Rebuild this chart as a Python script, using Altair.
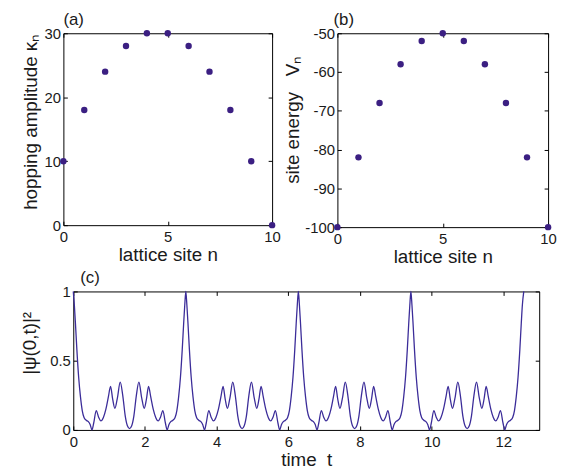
import altair as alt
import pandas as pd

# ---------------- data ----------------
sites = [0, 1, 2, 3, 4, 5, 6, 7, 8, 9, 10]
kappa = [10, 18, 24, 28, 30, 30, 28, 24, 18, 10, 0]
site_energy = [-100, -82, -68, -58, -52, -50, -52, -58, -68, -82, -100]

time_t = [
    0.00, 0.03, 0.06, 0.10, 0.15, 0.20, 0.25, 0.30, 0.36, 0.42, 0.47, 0.52, 0.57, 0.64, 0.71, 0.77, 0.84, 0.91, 0.98, 1.04, 1.10, 1.16, 1.23, 1.31, 1.38, 1.45, 1.51, 1.57,
    1.63, 1.69, 1.76, 1.83, 1.91, 1.98, 2.04, 2.10, 2.16, 2.23, 2.30, 2.37, 2.43, 2.50, 2.57, 2.62, 2.67, 2.72, 2.78, 2.84, 2.89, 2.94, 2.99, 3.04, 3.08, 3.11, 3.14,
    3.17, 3.20, 3.24, 3.29, 3.34, 3.39, 3.44, 3.50, 3.56, 3.61, 3.66, 3.71, 3.78, 3.85, 3.91, 3.98, 4.05, 4.12, 4.18, 4.24, 4.30, 4.37, 4.45, 4.52, 4.59, 4.65, 4.71,
    4.77, 4.83, 4.90, 4.97, 5.05, 5.12, 5.18, 5.24, 5.30, 5.37, 5.44, 5.51, 5.57, 5.64, 5.71, 5.76, 5.81, 5.86, 5.92, 5.98, 6.03, 6.08, 6.13, 6.18, 6.22, 6.25, 6.28,
    6.31, 6.34, 6.38, 6.43, 6.48, 6.53, 6.58, 6.64, 6.70, 6.75, 6.80, 6.85, 6.92, 6.99, 7.05, 7.12, 7.19, 7.26, 7.32, 7.38, 7.44, 7.51, 7.59, 7.66, 7.73, 7.79, 7.85,
    7.91, 7.97, 8.04, 8.11, 8.19, 8.26, 8.32, 8.38, 8.44, 8.51, 8.58, 8.65, 8.71, 8.78, 8.85, 8.90, 8.95, 9.00, 9.06, 9.12, 9.17, 9.22, 9.27, 9.32, 9.36, 9.39, 9.42,
    9.45, 9.48, 9.52, 9.57, 9.62, 9.67, 9.72, 9.78, 9.84, 9.89, 9.94, 9.99, 10.06, 10.13, 10.19, 10.26, 10.33, 10.40, 10.46, 10.52, 10.58, 10.65, 10.73, 10.80, 10.87, 10.93, 10.99,
    11.05, 11.11, 11.18, 11.25, 11.33, 11.40, 11.46, 11.52, 11.58, 11.65, 11.72, 11.79, 11.85, 11.92, 11.99, 12.04, 12.09, 12.14, 12.20, 12.26, 12.31, 12.36, 12.41, 12.46, 12.50, 12.53, 12.57,
]
return_prob = [
    1.00, 0.90, 0.77, 0.58, 0.38, 0.24, 0.14, 0.09, 0.07, 0.06, 0.04, 0.00, 0.05, 0.14, 0.09, 0.065, 0.09, 0.15, 0.24, 0.315, 0.22, 0.155, 0.23, 0.345, 0.25, 0.10, 0.03, 0.01,
    0.03, 0.10, 0.25, 0.345, 0.23, 0.155, 0.22, 0.315, 0.24, 0.15, 0.09, 0.065, 0.09, 0.14, 0.05, 0.00, 0.04, 0.06, 0.07, 0.09, 0.14, 0.24, 0.38, 0.58, 0.77, 0.90, 1.00,
    0.90, 0.77, 0.58, 0.38, 0.24, 0.14, 0.09, 0.07, 0.06, 0.04, 0.00, 0.05, 0.14, 0.09, 0.065, 0.09, 0.15, 0.24, 0.315, 0.22, 0.155, 0.23, 0.345, 0.25, 0.10, 0.03, 0.01,
    0.03, 0.10, 0.25, 0.345, 0.23, 0.155, 0.22, 0.315, 0.24, 0.15, 0.09, 0.065, 0.09, 0.14, 0.05, 0.00, 0.04, 0.06, 0.07, 0.09, 0.14, 0.24, 0.38, 0.58, 0.77, 0.90, 1.00,
    0.90, 0.77, 0.58, 0.38, 0.24, 0.14, 0.09, 0.07, 0.06, 0.04, 0.00, 0.05, 0.14, 0.09, 0.065, 0.09, 0.15, 0.24, 0.315, 0.22, 0.155, 0.23, 0.345, 0.25, 0.10, 0.03, 0.01,
    0.03, 0.10, 0.25, 0.345, 0.23, 0.155, 0.22, 0.315, 0.24, 0.15, 0.09, 0.065, 0.09, 0.14, 0.05, 0.00, 0.04, 0.06, 0.07, 0.09, 0.14, 0.24, 0.38, 0.58, 0.77, 0.90, 1.00,
    0.90, 0.77, 0.58, 0.38, 0.24, 0.14, 0.09, 0.07, 0.06, 0.04, 0.00, 0.05, 0.14, 0.09, 0.065, 0.09, 0.15, 0.24, 0.315, 0.22, 0.155, 0.23, 0.345, 0.25, 0.10, 0.03, 0.01,
    0.03, 0.10, 0.25, 0.345, 0.23, 0.155, 0.22, 0.315, 0.24, 0.15, 0.09, 0.065, 0.09, 0.14, 0.05, 0.00, 0.04, 0.06, 0.07, 0.09, 0.14, 0.24, 0.38, 0.58, 0.77, 0.90, 1.00,
]

x_ticks_ab = [0, 5, 10]
y_ticks_a = [0, 10, 20, 30]
y_ticks_b = [-100, -90, -80, -70, -60, -50]
x_ticks_c = [0, 2, 4, 6, 8, 10, 12]
y_ticks_c = [0, 0.5, 1]

FONT = "Liberation Sans"
DOT = "#3b1f82"
LINE = "#3b2c99"
TXT = "#1a1a1a"
LBL = "'' + datum.value"
NB = "\u00a0"

df_a = pd.DataFrame({"n": sites, "v": kappa})
df_b = pd.DataFrame({"n": sites, "v": site_energy})
df_c = pd.DataFrame({"t": time_t, "p": return_prob})


def tick_axis(orient, offset, values):
    return alt.Axis(orient=orient, offset=offset, values=values, labels=False,
                    title=None, domain=False, ticks=True, tickSize=4,
                    tickColor="black", tickWidth=1, grid=False)


def panel(df, xf, yf, xdom, ydom, xt, yt, xtitle, ytitle, label, w, h,
          line=False, ytpad=4, ldx=0, toff=-3, ty=None):
    xs = alt.Scale(domain=xdom, nice=False, zero=False)
    ys = alt.Scale(domain=ydom, nice=False, zero=False)
    base = alt.Chart(df)
    if line:
        mk = base.mark_line(color=LINE, strokeWidth=1.3, interpolate="monotone")
        ghost = base.mark_line(opacity=0)
    else:
        mk = base.mark_circle(color=DOT, size=42, opacity=1)
        ghost = base.mark_circle(opacity=0)
    yaxis_kw = dict(values=yt, title=ytitle, ticks=False, domain=False,
                    grid=False, labelPadding=3, titlePadding=ytpad,
                    labelExpr=LBL, labelOverlap=False)
    if ty is not None:
        yaxis_kw["titleY"] = ty
    main = mk.encode(
        x=alt.X(f"{xf}:Q", scale=xs,
                axis=alt.Axis(values=xt, title=xtitle, ticks=False, domain=False,
                              grid=False, labelPadding=5, titlePadding=1,
                              labelExpr=LBL, labelFlush=False, labelOverlap=False)),
        y=alt.Y(f"{yf}:Q", scale=ys, axis=alt.Axis(**yaxis_kw)),
    )
    t1 = ghost.encode(
        x=alt.X(f"{xf}:Q", scale=xs, axis=tick_axis("top", -h, xt)),
        y=alt.Y(f"{yf}:Q", scale=ys, axis=tick_axis("right", -w, yt)),
    )
    t2 = ghost.encode(
        x=alt.X(f"{xf}:Q", scale=xs, axis=tick_axis("bottom", -h, xt)),
        y=alt.Y(f"{yf}:Q", scale=ys, axis=tick_axis("left", -w, yt)),
    )
    return alt.layer(main, t1, t2).resolve_axis(
        x="independent", y="independent"
    ).properties(
        width=w, height=h,
        title=alt.TitleParams(label, anchor="start", frame="group", fontSize=17,
                              font=FONT, fontWeight="normal", color=TXT,
                              offset=toff, dx=ldx),
    )


pa = panel(df_a, "n", "v", [0, 10], [0, 30], x_ticks_ab, y_ticks_a,
           "lattice site n", "hopping amplitude \u03ba\u2099", "(a)", 211, 194,
           ytpad=4, ldx=0, ty=89)
pb = panel(df_b, "n", "v", [0, 10], [-100, -50], x_ticks_ab, y_ticks_b,
           "lattice site n", "site energy" + NB * 3 + "V\u2099", "(b)", 213, 196,
           ytpad=2, ldx=-4, ty=87)
pc = panel(df_c, "t", "p", [0, 13], [0, 1], x_ticks_c, y_ticks_c,
           "time" + NB * 2 + "t", "|\u03c8(0,t)|\u00b2", "(c)", 471, 140,
           line=True, ytpad=10, ldx=7, toff=-2, ty=52)

spacer = alt.Chart(df_c).mark_point(opacity=0).encode(
    x=alt.X("t:Q", axis=None), y=alt.Y("p:Q", axis=None)
).properties(width=1, height=140, view=alt.ViewBackground(strokeOpacity=0))

row2 = alt.hconcat(spacer, pc, spacing=9, bounds="flush")

chart = alt.vconcat(
    alt.hconcat(pa, pb, spacing=2),
    row2,
    spacing=0,
).properties(
    padding={"left": 12, "top": 0, "right": 0, "bottom": 0},
    background="white",
).configure_view(
    stroke="black", strokeWidth=1
).configure_axis(
    labelFont=FONT, labelFontSize=15, labelColor=TXT,
    titleFont=FONT, titleFontSize=19, titleFontWeight="normal", titleColor=TXT,
    grid=False,
)

chart.save("out.html", embed_options={"renderer": "svg", "actions": False})
